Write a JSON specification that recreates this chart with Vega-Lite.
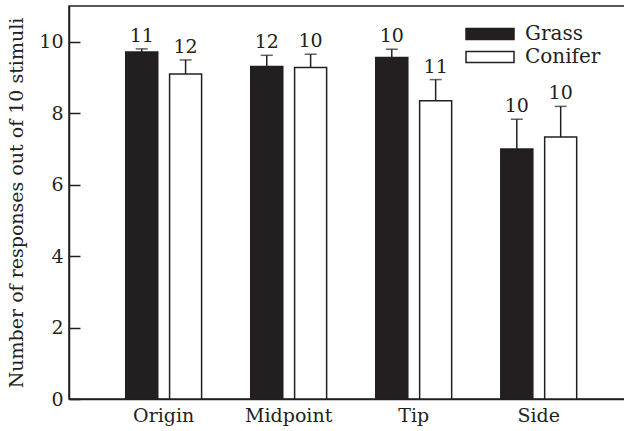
{
  "$schema": "https://vega.github.io/schema/vega-lite/v6.json",
  "autosize": "none",
  "padding": {"left": 69, "top": 6, "right": 0, "bottom": 32},
  "width": 556,
  "height": 393,
  "config": {
    "font": "DejaVu Serif",
    "view": {"stroke": "#231f20", "strokeWidth": 1.5},
    "axis": {"labelFont": "DejaVu Serif", "titleFont": "DejaVu Serif", "labelColor": "#231f20", "titleColor": "#231f20", "domainColor": "#231f20", "tickColor": "#231f20", "grid": false, "titleFontWeight": "normal"}
  },
  "data": {
    "values": [
      {"location": "Origin", "substrate": "Grass", "mean": 9.71, "upper": 9.8, "n": "11"},
      {"location": "Origin", "substrate": "Conifer", "mean": 9.1, "upper": 9.49, "n": "12"},
      {"location": "Midpoint", "substrate": "Grass", "mean": 9.31, "upper": 9.62, "n": "12"},
      {"location": "Midpoint", "substrate": "Conifer", "mean": 9.28, "upper": 9.65, "n": "10"},
      {"location": "Tip", "substrate": "Grass", "mean": 9.56, "upper": 9.79, "n": "10"},
      {"location": "Tip", "substrate": "Conifer", "mean": 8.35, "upper": 8.94, "n": "11"},
      {"location": "Side", "substrate": "Grass", "mean": 7.0, "upper": 7.83, "n": "10"},
      {"location": "Side", "substrate": "Conifer", "mean": 7.33, "upper": 8.19, "n": "10"}
    ]
  },
  "encoding": {
    "x": {
      "field": "location", "type": "nominal", "sort": ["Origin", "Midpoint", "Tip", "Side"],
      "scale": {"paddingInner": 0.393, "paddingOuter": 0.42, "align": 0.54},
      "axis": {"title": null, "labelAngle": 0, "ticks": false, "labelFontSize": 19, "labelPadding": 7, "domainWidth": 1.5}
    },
    "xOffset": {"field": "substrate", "type": "nominal", "sort": ["Grass", "Conifer"], "scale": {"paddingInner": 0.27}}
  },
  "layer": [
    {
      "mark": {"type": "bar", "stroke": "#231f20", "strokeWidth": 1.5},
      "encoding": {
        "y": {
          "field": "mean", "type": "quantitative",
          "scale": {"domain": [0, 11], "nice": false},
          "axis": {"title": "Number of responses out of 10 stimuli", "titleFontSize": 19, "labelFontSize": 19, "values": [0, 2, 4, 6, 8, 10], "tickSize": -11, "tickWidth": 1.5, "domainWidth": 1.5, "labelPadding": 17, "titlePadding": 12}
        },
        "fill": {
          "field": "substrate", "type": "nominal", "sort": ["Grass", "Conifer"],
          "scale": {"domain": ["Grass", "Conifer"], "range": ["#231f20", "#ffffff"]},
          "legend": {
            "title": null, "orient": "none", "legendX": 408, "legendY": 15,
            "symbolType": "M-2,-0.46H2V0.46H-2Z", "symbolSize": 576,
            "symbolStrokeColor": "#231f20", "symbolStrokeWidth": 1.5,
            "labelFontSize": 20, "labelFont": "DejaVu Serif", "labelColor": "#231f20", "labelOffset": 22,
            "padding": 0, "rowPadding": 0
          }
        }
      }
    },
    {
      "mark": {"type": "rule", "color": "#231f20", "strokeWidth": 1.5},
      "encoding": {
        "y": {"field": "mean", "type": "quantitative"},
        "y2": {"field": "upper"}
      }
    },
    {
      "mark": {"type": "tick", "color": "#231f20", "thickness": 1.5, "size": 12, "orient": "horizontal"},
      "encoding": {
        "y": {"field": "upper", "type": "quantitative"}
      }
    },
    {
      "mark": {"type": "text", "baseline": "alphabetic", "dy": -7, "fontSize": 19, "color": "#231f20"},
      "encoding": {
        "y": {"field": "upper", "type": "quantitative"},
        "text": {"field": "n"}
      }
    }
  ]
}
